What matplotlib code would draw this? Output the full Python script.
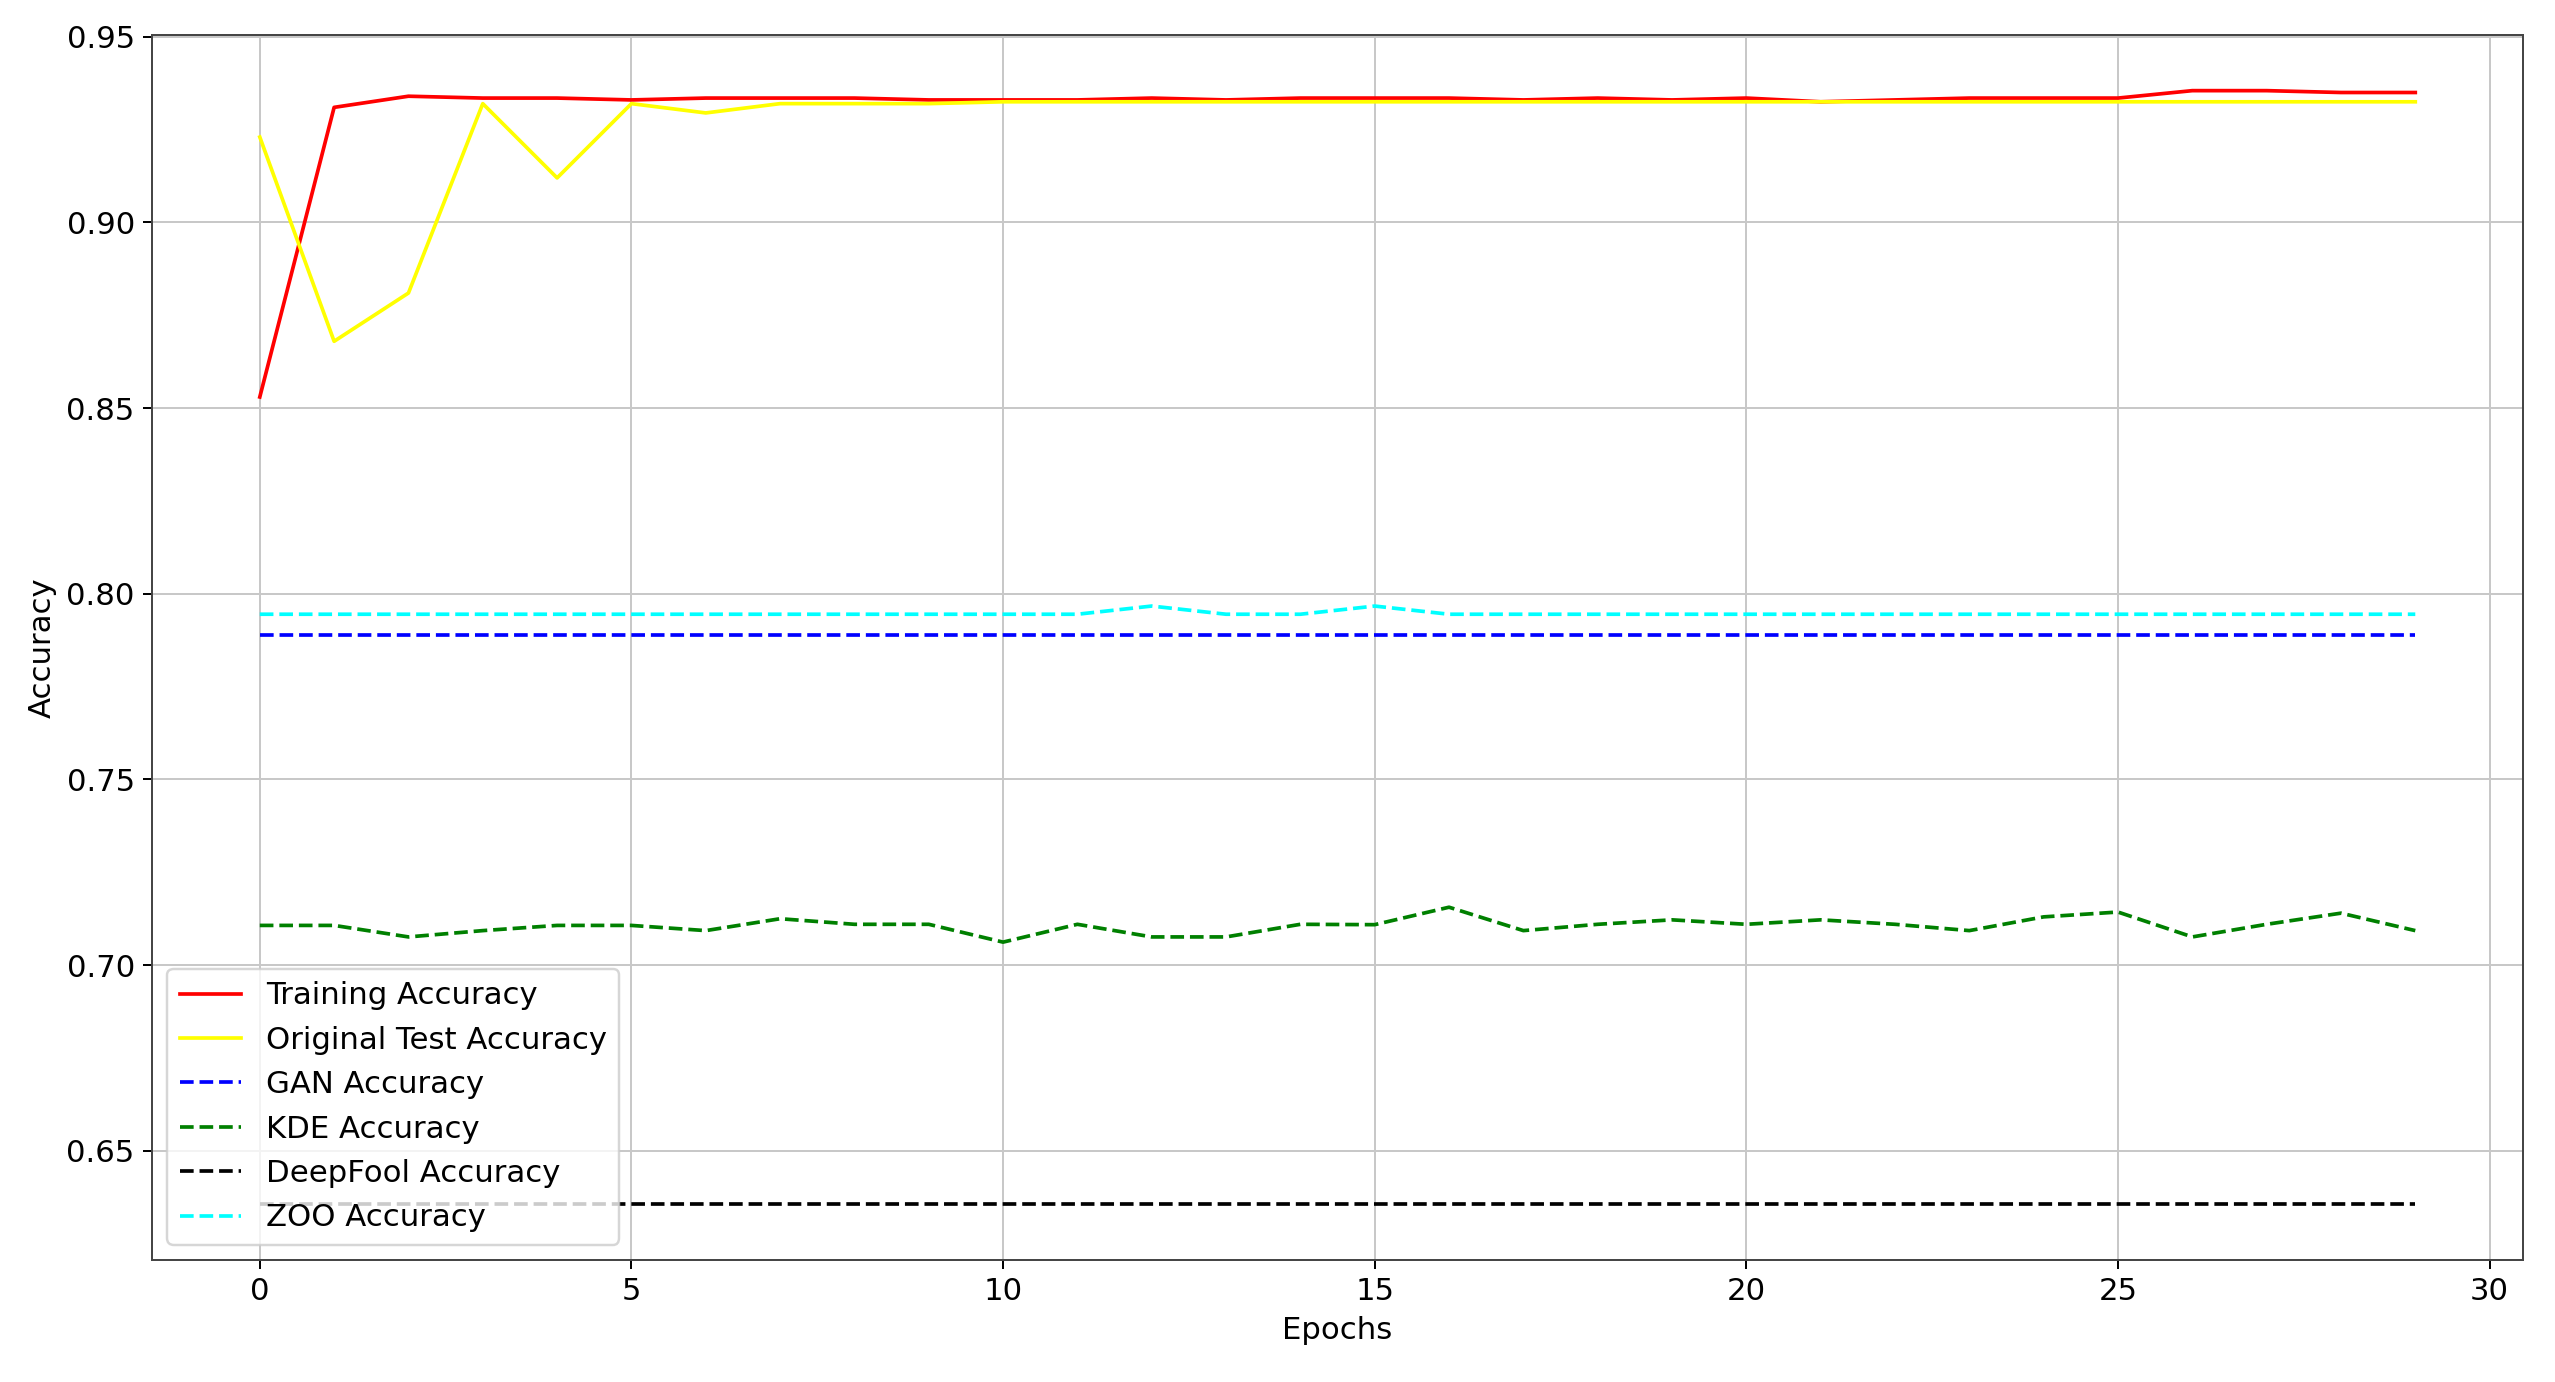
import numpy as np
import matplotlib
matplotlib.use("Agg")
import matplotlib.pyplot as plt

# Accuracy values per epoch
epochs = list(range(30))

train_acc = [0.853, 0.931, 0.934, 0.9335, 0.9335, 0.933, 0.9335, 0.9335, 0.9335, 0.933,
             0.933, 0.933, 0.9335, 0.933, 0.9335, 0.9335, 0.9335, 0.933, 0.9335, 0.933,
             0.9335, 0.9325, 0.933, 0.9335, 0.9335, 0.9335, 0.9355, 0.9355, 0.935, 0.935]

test_acc = [0.923, 0.868, 0.881, 0.932, 0.912, 0.932, 0.9295, 0.932, 0.932, 0.932,
            0.9325, 0.9325, 0.9325, 0.9325, 0.9325, 0.9325, 0.9325, 0.9325, 0.9325, 0.9325,
            0.9325, 0.9325, 0.9325, 0.9325, 0.9325, 0.9325, 0.9325, 0.9325, 0.9325, 0.9325]

gan_acc = [0.7888] * 30

kde_acc = [0.7107, 0.7107, 0.7076, 0.7093, 0.7107, 0.7107, 0.7093, 0.7125, 0.711, 0.711,
           0.7062, 0.711, 0.7076, 0.7076, 0.711, 0.7109, 0.7156, 0.7093, 0.711, 0.7122,
           0.711, 0.7122, 0.711, 0.7093, 0.713, 0.7143, 0.7076, 0.711, 0.714, 0.7093]

deepfool_acc = [0.6356] * 30

zoo_acc = [0.7945, 0.7945, 0.7945, 0.7945, 0.7945, 0.7945, 0.7945, 0.7945, 0.7945, 0.7945,
           0.7945, 0.7945, 0.7967, 0.7945, 0.7945, 0.7967, 0.7945, 0.7945, 0.7945, 0.7945,
           0.7945, 0.7945, 0.7945, 0.7945, 0.7945, 0.7945, 0.7945, 0.7945, 0.7945, 0.7945]

plt.rcParams['font.size'] = 12.5

DPI = 177
fig = plt.figure(figsize=(2555 / DPI, 1382 / DPI), dpi=DPI)
ax = fig.add_axes([0.0595, 0.0883, 0.928, 0.8864])

ax.plot(epochs, train_acc, color='red', label='Training Accuracy')
ax.plot(epochs, test_acc, color='yellow', label='Original Test Accuracy')
ax.plot(epochs, gan_acc, color='blue', linestyle='--', label='GAN Accuracy')
ax.plot(epochs, kde_acc, color='green', linestyle='--', label='KDE Accuracy')
ax.plot(epochs, deepfool_acc, color='black', linestyle='--', label='DeepFool Accuracy')
ax.plot(epochs, zoo_acc, color='cyan', linestyle='--', label='ZOO Accuracy')

ax.set_xlabel('Epochs')
ax.set_ylabel('Accuracy')
ax.grid(True, color='#c8c8c8')
for s in ax.spines.values():
    s.set_color('#444444')
ax.legend(loc='lower left')

fig.savefig('out.png', dpi=DPI)
